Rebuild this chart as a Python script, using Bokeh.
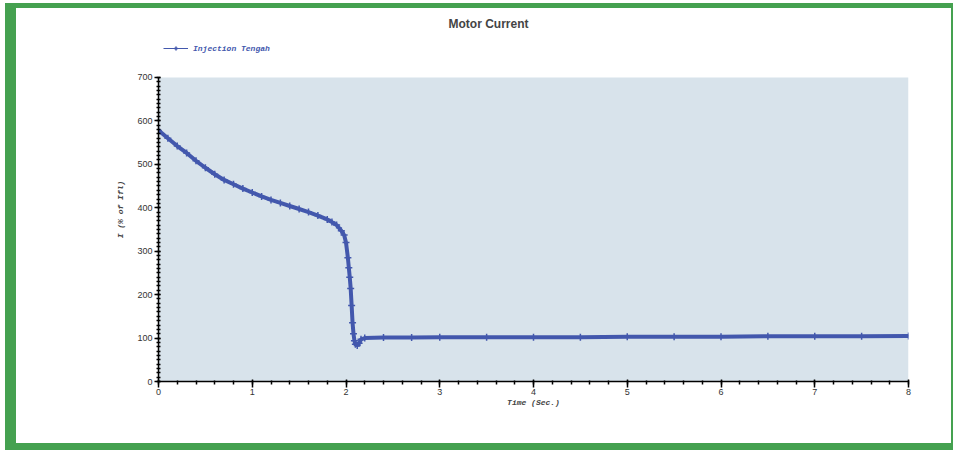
from bokeh.plotting import figure
from bokeh.models import Legend, LegendItem, Range1d, FixedTicker
from bokeh.embed import file_html
from bokeh.resources import INLINE

title_text = "Motor Current"
series_name = "Injection Tengah"
x_label = "Time (Sec.)"
y_label = "I (% of Ifl)"

time_s = [0.0, 0.1, 0.2, 0.3, 0.4, 0.5, 0.6, 0.7, 0.8, 0.9, 1.0, 1.1, 1.2, 1.3,
          1.4, 1.5, 1.6, 1.7, 1.8, 1.85, 1.9, 1.95, 1.98, 2.0, 2.02, 2.03, 2.04,
          2.05, 2.06, 2.07, 2.08, 2.09, 2.1, 2.12, 2.14, 2.16, 2.2, 2.4, 2.7,
          3.0, 3.5, 4.0, 4.5, 5.0, 5.5, 6.0, 6.5, 7.0, 7.5, 8.0]
current = [578, 560, 542, 526, 508, 492, 477, 464, 454, 444, 435, 426, 418, 411,
           404, 397, 390, 382, 373, 367, 360, 347, 337, 320, 285, 262, 240,
           214, 175, 135, 110, 94, 86, 83, 88, 97, 100, 101, 101,
           102, 102, 102, 102, 103, 103, 103, 104, 104, 104, 105]

x_ticks = [0, 1, 2, 3, 4, 5, 6, 7, 8]
y_ticks = [0, 100, 200, 300, 400, 500, 600, 700]

BLUE = "#4358ad"
PANEL = "#d8e3eb"
GREEN = "#45a150"

FRAME_H = 345
PANEL_H = 305
y_top = y_ticks[-1] * FRAME_H / PANEL_H

p = figure(width=935, height=435, output_backend="svg", toolbar_location=None,
           x_range=Range1d(x_ticks[0], x_ticks[-1]), y_range=Range1d(y_ticks[0], y_top),
           min_border_left=142, min_border_right=56, min_border_top=28,
           min_border_bottom=74, background_fill_color="white",
           border_fill_color="white")
p.styles = {"box-sizing": "content-box",
            "border-style": "solid", "border-color": GREEN,
            "border-width": "5px 2px 7px 11px",
            "margin-left": "5px", "margin-top": "3px"}
p.outline_line_color = None
p.xgrid.grid_line_color = None
p.ygrid.grid_line_color = None

p.quad(left=[x_ticks[0]], right=[x_ticks[-1]], bottom=[y_ticks[0]], top=[y_ticks[-1]],
       fill_color=PANEL, line_color=None)

p.title.text = title_text
p.title.align = "left"
p.title.offset = 290
p.title.standoff = 13
p.title.text_font = "Liberation Sans"
p.title.text_font_style = "bold"
p.title.text_font_size = "12px"

p.line(time_s, current, line_color=BLUE, line_width=4)
ln = p.line(time_s, current, line_color=BLUE, line_width=1)
mk = p.scatter(time_s, current, marker="cross", size=7, line_color=BLUE, line_width=1.5)

legend = Legend(items=[LegendItem(label=series_name, renderers=[ln, mk])],
                location=(5, 328), orientation="horizontal")
legend.margin = 0
legend.padding = 0
legend.glyph_width = 25
legend.glyph_height = 10
legend.label_height = 10
legend.label_standoff = 5
legend.border_line_color = None
legend.background_fill_alpha = 0
legend.label_text_font = "Liberation Mono"
legend.label_text_font_style = "bold italic"
legend.label_text_font_size = "8px"
legend.label_text_color = BLUE
p.add_layout(legend)

for ax in (p.xaxis[0], p.yaxis[0]):
    ax.axis_line_color = "black"
    ax.axis_line_width = 1.5
    ax.major_tick_line_color = "black"
    ax.minor_tick_line_color = "black"
    ax.major_tick_line_width = 1.5
    ax.minor_tick_line_width = 1.5
    ax.major_label_text_font = "Liberation Sans"
    ax.major_label_text_font_size = "9px"
    ax.major_label_text_color = "#333333"
    ax.axis_label_text_font = "Liberation Mono"
    ax.axis_label_text_font_style = "bold italic"
    ax.axis_label_text_font_size = "8px"

p.yaxis.bounds = (y_ticks[0], y_ticks[-1])
p.xaxis.ticker = FixedTicker(ticks=x_ticks, minor_ticks=[i / 5 for i in range(41)])
p.yaxis.ticker = FixedTicker(ticks=y_ticks, minor_ticks=[i * 10 for i in range(71)])
p.xaxis.axis_label = x_label
p.yaxis.axis_label = y_label
p.xaxis.major_tick_in = 2
p.xaxis.major_tick_out = 6
p.xaxis.minor_tick_in = 1
p.xaxis.minor_tick_out = 3
p.yaxis.major_tick_in = 2
p.yaxis.major_tick_out = 4
p.yaxis.minor_tick_in = 2
p.yaxis.minor_tick_out = 2
p.xaxis.major_label_standoff = 1
p.yaxis.major_label_standoff = 2
p.xaxis.axis_label_standoff = 0
p.yaxis.axis_label_standoff = 9

open("out.html", "w").write(file_html(p, INLINE))
